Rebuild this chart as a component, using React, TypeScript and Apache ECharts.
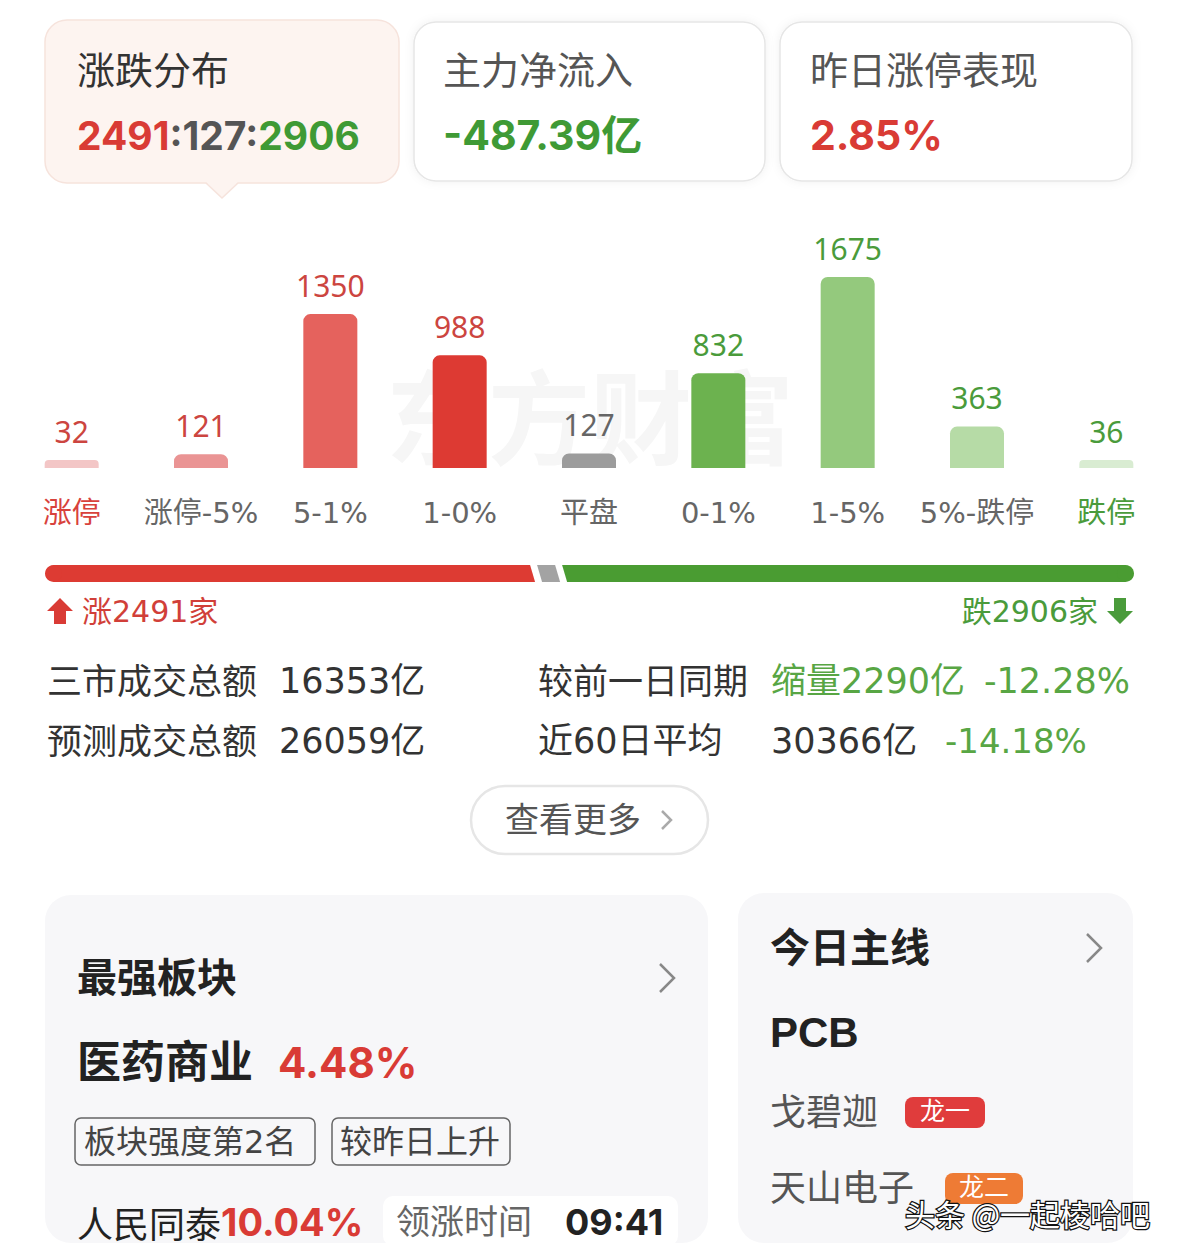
import { useEffect, useRef } from "react";
import * as echarts from "echarts";

// ---------- data ----------
const categories = ["涨停", "涨停-5%", "5-1%", "1-0%", "平盘", "0-1%", "1-5%", "5%-跌停", "跌停"];
const counts = [32, 121, 1350, 988, 127, 832, 1675, 363, 36];
const upCount = 2491;
const flatCount = 127;
const downCount = 2906;
const summaryTitles = ["涨跌分布", "主力净流入", "昨日涨停表现"];
const netInflow = "-487.39亿";
const limitUpPerf = "2.85%";
const statLabels = ["三市成交总额", "预测成交总额", "较前一日同期", "近60日平均"];
const statValues = ["16353亿", "26059亿", "缩量2290亿", "30366亿"];
const statChanges = ["-12.28%", "-14.18%"];
const strongSector = { title: "最强板块", name: "医药商业", pct: "4.48%", tags: ["板块强度第2名", "较昨日上升"], leader: "人民同泰", leaderPct: "10.04%", timeLabel: "领涨时间", time: "09:41" };
const mainLine = { title: "今日主线", theme: "PCB", stocks: ["戈碧迦", "天山电子"], badges: ["龙一", "龙二"] };

// ---------- styles ----------
const barPalette = ["#f3c6c6", "#ea9494", "#e5625d", "#dd3a33", "#9c9c9c", "#6cb24f", "#94c97d", "#b6dba6", "#d9ecd2"];
const labelPalette = ["#cc4540", "#cc4540", "#cc4540", "#cc4540", "#666666", "#4a9b3b", "#4a9b3b", "#4a9b3b", "#4a9b3b"];
const RED = "#d93b35";
const GREEN = "#3f9a35";
const CJK = '"Noto Sans CJK SC", sans-serif';
const MIX = '"DejaVu Sans", "Noto Sans CJK SC", sans-serif';
const NUM = 'Inter, "Noto Sans CJK SC", sans-serif';

function txt(x: number, y: number, text: string, opts: any = {}) {
  const align = opts.align || "left";
  const family = opts.family || CJK;
  const dy = opts.dy ?? (family === CJK ? -3 : 0);
  return {
    type: "text",
    x,
    y: y + dy,
    z: opts.z ?? 5,
    style: {
      text,
      fill: opts.fill || "#333",
      fontSize: opts.size || 34,
      fontWeight: opts.weight || "normal",
      fontFamily: family,
      align,
      textAlign: align,
      verticalAlign: "middle",
      textVerticalAlign: "middle",
      rich: opts.rich,
      stroke: opts.stroke,
      lineWidth: opts.lineWidth,
    },
  };
}

function rect(x: number, y: number, w: number, h: number, r: number, style: any, z = 1) {
  return { type: "rect", z, shape: { x, y, width: w, height: h, r }, style };
}

function chevron(x: number, y: number, h: number, color: string) {
  return {
    type: "polyline",
    z: 5,
    shape: { points: [[x, y - h], [x + h, y], [x, y + h]] },
    style: { stroke: color, lineWidth: 2.5, fill: "none" },
  };
}

export default function App() {
  const ref = useRef<HTMLDivElement>(null);

  useEffect(() => {
    if (!ref.current) return;
    const chart = echarts.init(ref.current, undefined, { renderer: "svg" });
    const total = upCount + flatCount + downCount;
    const segments = [
      [0, upCount, 0, 0],
      [upCount, upCount + flatCount, 1, 0],
      [upCount + flatCount, total, 2, 0],
    ];
    const segColors = ["#dd3b33", "#a3a3a3", "#4a9c32"];

    const graphics: any[] = [
      // top cards
      rect(45, 20, 354, 163, 22, { fill: "#fdf4f0", stroke: "#f6e3dc", lineWidth: 1.5 }),
      { type: "polygon", z: 2, shape: { points: [[206, 182], [222, 198], [238, 182]] }, style: { fill: "#fdf4f0" } },
      { type: "polyline", z: 2, shape: { points: [[206, 183], [222, 198], [238, 183]] }, style: { stroke: "#f6e3dc", lineWidth: 1.5, fill: "none" } },
      rect(414, 22, 351, 159, 22, { fill: "#fff", stroke: "#e6e6e6", lineWidth: 1.5, shadowBlur: 10, shadowColor: "rgba(0,0,0,0.06)" }),
      rect(780, 22, 352, 159, 22, { fill: "#fff", stroke: "#e6e6e6", lineWidth: 1.5, shadowBlur: 10, shadowColor: "rgba(0,0,0,0.06)" }),
      txt(77, 70, summaryTitles[0], { size: 38, fill: "#333" }),
      txt(77, 135, `{a|${upCount}}{b|:${flatCount}:}{c|${downCount}}`, {
        family: NUM,
        rich: {
          a: { fill: RED, fontSize: 39, fontWeight: "bold", fontFamily: NUM },
          b: { fill: "#555", fontSize: 39, fontWeight: "bold", fontFamily: NUM },
          c: { fill: GREEN, fontSize: 39, fontWeight: "bold", fontFamily: NUM },
        },
      }),
      txt(443, 70, summaryTitles[1], { size: 38, fill: "#555" }),
      txt(443, 135, netInflow, { size: 41, fill: GREEN, weight: "bold", family: NUM }),
      txt(810, 70, summaryTitles[2], { size: 38, fill: "#555" }),
      txt(810, 135, limitUpPerf, { size: 41, fill: RED, weight: "bold", family: NUM }),
      // watermark
      txt(590, 415, "东方财富", { size: 102, weight: "bold", fill: "#f6f6f6", align: "center", z: 0 }),
      // arrows & counts
      { type: "polygon", z: 5, shape: { points: [[60, 598], [73, 611], [66, 611], [66, 624], [54, 624], [54, 611], [47, 611]] }, style: { fill: RED } },
      txt(82, 611, `涨${upCount}家`, { size: 30, fill: "#d13f39", family: MIX }),
      txt(1098, 611, `跌${downCount}家`, { size: 30, fill: "#4a9b3b", align: "right", family: MIX }),
      { type: "polygon", z: 5, shape: { points: [[1114, 598], [1126, 598], [1126, 611], [1133, 611], [1120, 624], [1107, 611], [1114, 611]] }, style: { fill: "#4a9b3b" } },
      // stats
      txt(47, 681, statLabels[0], { size: 35, fill: "#333" }),
      txt(279, 681, statValues[0], { size: 35, fill: "#333", family: MIX }),
      txt(538, 681, statLabels[2], { size: 35, fill: "#333" }),
      txt(771, 681, statValues[2], { size: 35, fill: "#58a644", family: MIX }),
      txt(1130, 681, statChanges[0], { size: 35, fill: "#58a644", align: "right", family: MIX }),
      txt(47, 741, statLabels[1], { size: 35, fill: "#333" }),
      txt(279, 741, statValues[1], { size: 35, fill: "#333", family: MIX }),
      txt(538, 741, statLabels[3], { size: 35, fill: "#333", family: MIX }),
      txt(771, 741, statValues[3], { size: 35, fill: "#333", family: MIX }),
      txt(945, 741, statChanges[1], { size: 34, fill: "#58a644", family: MIX }),
      // button
      rect(471, 786, 237, 68, 34, { fill: "#fff", stroke: "#e6e6e6", lineWidth: 2.5 }),
      txt(505, 820, "查看更多", { size: 34, fill: "#555" }),
      chevron(662, 820, 9, "#aaa"),
      // bottom-left card
      rect(45, 895, 663, 348, 26, { fill: "#f7f7f9" }),
      txt(77, 978, strongSector.title, { size: 40, weight: "bold", fill: "#222" }),
      chevron(660, 978, 14, "#888"),
      txt(77, 1062, strongSector.name, { size: 44, weight: "bold", fill: "#222" }),
      txt(278, 1062, strongSector.pct, { size: 42, weight: "bold", fill: RED, family: NUM }),
      rect(75, 1118, 240, 47, 6, { fill: "none", stroke: "#666", lineWidth: 1.5 }, 3),
      txt(84, 1142, strongSector.tags[0], { size: 32, fill: "#444", family: MIX }),
      rect(332, 1118, 178, 47, 6, { fill: "none", stroke: "#666", lineWidth: 1.5 }, 3),
      txt(340, 1142, strongSector.tags[1], { size: 32, fill: "#444" }),
      rect(383, 1196, 295, 50, 10, { fill: "#fff" }, 2),
      txt(77, 1222, `{a|${strongSector.leader}}{b|${strongSector.leaderPct}}`, {
        family: NUM,
        rich: {
          a: { fill: "#222", fontSize: 36, fontFamily: CJK },
          b: { fill: RED, fontSize: 38, fontWeight: "bold", fontFamily: NUM },
        },
      }),
      txt(396, 1222, strongSector.timeLabel, { size: 34, fill: "#666" }),
      txt(565, 1222, strongSector.time, { size: 36, weight: "bold", fill: "#222", family: NUM }),
      // bottom-right card
      rect(738, 893, 395, 350, 26, { fill: "#f7f7f9" }),
      txt(770, 948, mainLine.title, { size: 40, weight: "bold", fill: "#222" }),
      chevron(1087, 948, 14, "#888"),
      txt(770, 1032, mainLine.theme, { size: 42, weight: "bold", fill: "#222", family: '"Liberation Sans", sans-serif', dy: 0 }),
      txt(770, 1112, mainLine.stocks[0], { size: 36, fill: "#555" }),
      rect(905, 1097, 80, 31, 8, { fill: "#e03c3c" }, 3),
      txt(945, 1112, mainLine.badges[0], { size: 25, fill: "#fff", align: "center" }),
      txt(770, 1188, mainLine.stocks[1], { size: 36, fill: "#555" }),
      rect(945, 1173, 78, 31, 8, { fill: "#ee7b35" }, 3),
      txt(984, 1188, mainLine.badges[1], { size: 25, fill: "#fff", align: "center" }),
      // platform watermark
      txt(905, 1216, "头条 @一起棱哈吧", { size: 30, fill: "#fff", stroke: "#111", lineWidth: 2.5, z: 10 }),
    ];

    chart.setOption({
      animation: false,
      backgroundColor: "#ffffff",
      grid: [
        { left: 7, right: 8, top: 240, height: 228 },
        { left: 45, right: 45, top: 565, height: 17 },
      ],
      xAxis: [
        {
          type: "category",
          gridIndex: 0,
          data: categories,
          axisLine: { show: false },
          axisTick: { show: false },
          axisLabel: {
            margin: 30,
            fontSize: 29,
            fontFamily: MIX,
            interval: 0,
            color: (_v: string, i: number) => (i === 0 ? "#d8423c" : i === categories.length - 1 ? "#4a9b3b" : "#666666"),
          },
        },
        { type: "value", gridIndex: 1, min: 0, max: total, show: false },
      ],
      yAxis: [
        { type: "value", gridIndex: 0, min: 0, max: 2000, show: false, splitLine: { show: false } },
        { type: "category", gridIndex: 1, data: [""], show: false },
      ],
      graphic: { elements: graphics },
      series: [
        {
          type: "bar",
          xAxisIndex: 0,
          yAxisIndex: 0,
          barWidth: 54,
          barMinHeight: 8,
          z: 3,
          label: { show: true, position: "top", distance: 14, fontSize: 30, fontFamily: '"Noto Sans", sans-serif' },
          data: counts.map((v, i) => ({
            value: v,
            itemStyle: { color: barPalette[i], borderRadius: v < 100 ? [4, 4, 0, 0] : [7, 7, 0, 0] },
            label: { color: labelPalette[i] },
          })),
        },
        {
          type: "custom",
          xAxisIndex: 1,
          yAxisIndex: 1,
          encode: { x: [0, 1], y: 3 },
          data: segments,
          renderItem: (_params: any, api: any) => {
            const start = api.coord([api.value(0), api.value(3)]);
            const end = api.coord([api.value(1), api.value(3)]);
            const kind = api.value(2);
            const h = 17;
            const r = h / 2;
            const top = start[1] - h / 2;
            const bot = start[1] + h / 2;
            const gap = 7;
            const s = 5;
            const fill = segColors[kind];
            if (kind === 0) {
              const x0 = start[0];
              const x1 = end[0] - gap / 2;
              return {
                type: "group",
                children: [
                  { type: "polygon", shape: { points: [[x0 + r, top], [x1 - s / 2, top], [x1 + s / 2, bot], [x0 + r, bot]] }, style: { fill } },
                  { type: "circle", shape: { cx: x0 + r, cy: start[1], r }, style: { fill } },
                ],
              };
            }
            if (kind === 1) {
              const x0 = start[0] + gap / 2;
              const x1 = end[0] - gap / 2;
              return {
                type: "polygon",
                shape: { points: [[x0 - s / 2, top], [x1 - s / 2, top], [x1 + s / 2, bot], [x0 + s / 2, bot]] },
                style: { fill },
              };
            }
            const x0 = start[0] + gap / 2;
            const x1 = end[0];
            return {
              type: "group",
              children: [
                { type: "polygon", shape: { points: [[x0 - s / 2, top], [x1 - r, top], [x1 - r, bot], [x0 + s / 2, bot]] }, style: { fill } },
                { type: "circle", shape: { cx: x1 - r, cy: start[1], r }, style: { fill } },
              ],
            };
          },
        },
      ],
    });
    return () => chart.dispose();
  }, []);

  return (
    <div
      ref={ref}
      style={{ position: "absolute", left: 0, top: 0, width: 1179, height: 1257, background: "#fff" }}
    />
  );
}
